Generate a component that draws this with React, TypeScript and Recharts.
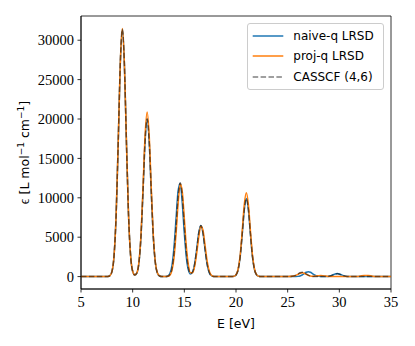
import React from 'react';
import { LineChart, Line, XAxis, YAxis, Legend, ReferenceArea } from 'recharts';

// photon energy grid [eV]
const energy = [
  5, 6, 7,
  7.4, 7.6, 7.8, 8, 8.2, 8.4, 8.6, 8.8, 9, 9.2, 9.4, 9.6, 9.8,
  10, 10.2, 10.4, 10.6, 10.8, 11, 11.2, 11.4, 11.6, 11.8,
  12, 12.2, 12.4, 12.6, 12.8, 13, 13.2, 13.4, 13.6, 13.8,
  14, 14.2, 14.4, 14.6, 14.8, 15, 15.2, 15.4, 15.6, 15.8,
  16, 16.2, 16.4, 16.6, 16.8, 17, 17.2, 17.4, 17.6, 17.8,
  18, 18.2, 18.4, 18.6, 18.8, 19, 19.2, 19.4, 19.6, 19.8,
  20, 20.2, 20.4, 20.6, 20.8, 21, 21.2, 21.4, 21.6, 21.8,
  22, 22.2, 22.4, 22.6,
  23, 24, 25,
  25.6, 25.8,
  26, 26.2, 26.4, 26.6, 26.8, 27, 27.2, 27.4, 27.6, 27.8,
  28, 28.2, 28.4, 28.6, 28.8, 29, 29.2, 29.4, 29.6, 29.8,
  30, 30.2, 30.4, 30.6,
  31, 31.6, 32, 32.4, 32.8, 33.2, 33.6, 34, 35,
];

const naiveQ = [
  0, 0, 0,
  2, 16, 122, 663, 2660, 7819, 16925, 26910, 31400, 26910, 16925, 7819, 2661,
  673, 200, 438, 1696, 4980, 10780, 17140, 20000, 17140, 10780,
  4980, 1694, 422, 78, 10, 3, 12, 79, 387, 1403,
  3749, 7414, 10900, 11800, 9306, 5474, 2383, 790, 319, 583,
  1625, 3505, 5571, 6500, 5571, 3504, 1619, 551, 137, 25,
  3, 0, 0, 0, 0, 0, 0, 0, 5, 39,
  209, 839, 2465, 5336, 8484, 9900, 8484, 5336, 2465, 839,
  209, 39, 5, 0,
  0, 0, 0,
  1, 7,
  28, 85, 205, 382, 556, 630, 556, 382, 205, 85,
  28, 7, 2, 4, 17, 51, 124, 231, 335, 380,
  335, 231, 124, 51,
  4, 0, 0, 0, 0, 0, 0, 0, 0,
];

const projQ = [
  0, 0, 0,
  2, 16, 122, 665, 2668, 7844, 16979, 26996, 31500, 26996, 16979, 7844, 2669,
  675, 204, 457, 1772, 5204, 11265, 17911, 20900, 17911, 11265,
  5204, 1770, 441, 82, 10, 1, 4, 32, 181, 763,
  2373, 5455, 9271, 11750, 10800, 7379, 3732, 1412, 483, 495,
  1304, 2973, 5048, 6400, 5911, 4015, 2029, 759, 209, 43,
  6, 1, 0, 0, 0, 0, 0, 0, 5, 42,
  225, 902, 2652, 5740, 9127, 10650, 9127, 5740, 2652, 902,
  225, 42, 5, 0,
  0, 0, 1,
  65, 156,
  291, 423, 480, 423, 291, 156, 65, 39, 47, 80,
  115, 130, 115, 79, 42, 18, 6, 0, 0, 0,
  0, 0, 0, 0,
  0, 7, 55, 150, 150, 55, 7, 0, 0,
];

const casscf = [
  0, 0, 0,
  2, 16, 122, 663, 2660, 7819, 16925, 26910, 31400, 26910, 16925, 7819, 2661,
  673, 200, 438, 1696, 4980, 10780, 17140, 20000, 17140, 10780,
  4980, 1694, 422, 78, 10, 2, 6, 46, 251, 1008,
  2963, 6414, 10198, 11900, 10198, 6414, 2966, 1033, 388, 597,
  1625, 3505, 5571, 6500, 5571, 3504, 1619, 551, 137, 25,
  3, 0, 0, 0, 0, 0, 0, 0, 5, 39,
  209, 839, 2465, 5336, 8484, 9900, 8484, 5336, 2465, 839,
  209, 39, 5, 0,
  0, 0, 1,
  74, 179,
  334, 485, 550, 485, 334, 179, 74, 24, 6, 1,
  0, 0, 1, 4, 15, 47, 114, 212, 309, 350,
  309, 212, 114, 47,
  4, 0, 0, 0, 0, 0, 0, 0, 0,
];

const xTicks = [5, 10, 15, 20, 25, 30, 35];
const yTicks = [0, 5000, 10000, 15000, 20000, 25000, 30000];

const rows = energy.map((E, i) => ({ E, naive: naiveQ[i], proj: projQ[i], casscf: casscf[i] }));

const series = [
  { key: 'naive', name: 'naive-q LRSD', color: '#1f77b4', dash: undefined as string | undefined, opacity: 1 },
  { key: 'proj', name: 'proj-q LRSD', color: '#ff7f0e', dash: undefined as string | undefined, opacity: 1 },
  { key: 'casscf', name: 'CASSCF (4,6)', color: '#000000', dash: '5.5 2.4', opacity: 0.5 },
];

const tickStyle = { fontFamily: 'Liberation Serif', fontSize: 14.5, fill: '#000' };

// legend keeps the plotting order instead of Recharts' alphabetical sort
const LegendBox = () => (
  <div
    style={{
      position: 'relative',
      width: 137,
      height: 67,
      boxSizing: 'border-box',
      border: '1px solid #cccccc',
      borderRadius: 3,
      background: 'rgba(255,255,255,0.8)',
      fontFamily: 'DejaVu Sans',
      fontSize: 12,
      color: '#000',
    }}
  >
    {series.map((s, i) => (
      <div key={s.key} style={{ position: 'absolute', left: 0, top: 11.5 + i * 20.75 - 10, height: 20, width: '100%' }}>
        <svg width={40} height={20} style={{ position: 'absolute', left: 0, top: 0 }}>
          <line x1={4.7} x2={35.3} y1={10} y2={10} stroke={s.color} strokeOpacity={s.opacity}
            strokeWidth={1.5} strokeDasharray={s.dash} />
        </svg>
        <span style={{ position: 'absolute', left: 45.3, top: 0, lineHeight: '20px', whiteSpace: 'nowrap' }}>{s.name}</span>
      </div>
    ))}
  </div>
);

const YLabel = (props: any) => {
  const vb = props.viewBox ?? { x: 0, y: 16, width: 81, height: 273 };
  const cx = vb.x + 29;
  const cy = vb.y + vb.height / 2;
  return (
    <text x={cx} y={cy} transform={`rotate(-90, ${cx}, ${cy})`} textAnchor="middle"
      fontFamily="DejaVu Sans" fontSize={12.5} fill="#000">
      <tspan fontFamily="Liberation Serif" fontSize={14}>ϵ</tspan>
      <tspan> [L mol</tspan>
      <tspan dy={-5} fontSize={9}>−1</tspan>
      <tspan dy={5}> cm</tspan>
      <tspan dy={-5} fontSize={9}>−1</tspan>
      <tspan dy={5}>]</tspan>
    </text>
  );
};

const XLabel = (props: any) => {
  const vb = props.viewBox ?? { x: 81, y: 289, width: 310, height: 57 };
  return (
    <text x={vb.x + vb.width / 2} y={vb.y + 38.5} textAnchor="middle" fontFamily="DejaVu Sans" fontSize={12.5} fill="#000">
      E [eV]
    </text>
  );
};

export default function App() {
  return (
    <div style={{ position: 'absolute', left: 0, top: 0, width: 415, height: 346, background: '#fff' }}>
      <LineChart width={415} height={346} data={rows} margin={{ top: 16, right: 24, left: 0, bottom: 0 }}>
        <XAxis
          dataKey="E"
          type="number"
          domain={[5, 35]}
          ticks={xTicks}
          height={57}
          tick={tickStyle}
          tickSize={3.5}
          tickMargin={4}
          stroke="#000"
          strokeWidth={0.8}
          label={<XLabel />}
        />
        <YAxis
          type="number"
          domain={[-1575, 33075]}
          ticks={yTicks}
          width={81}
          tick={tickStyle}
          tickSize={3.5}
          tickMargin={3.5}
          stroke="#000"
          strokeWidth={0.8}
          label={<YLabel />}
        />
        <ReferenceArea x1={5} x2={35} y1={-1575} y2={33075} fill="none" stroke="#000" strokeWidth={0.8} />
        {series.map((s) => (
          <Line
            key={s.key}
            type="monotone"
            dataKey={s.key}
            name={s.name}
            stroke={s.color}
            strokeOpacity={s.opacity}
            strokeWidth={1.5}
            strokeDasharray={s.dash}
            dot={false}
            activeDot={false}
            isAnimationActive={false}
          />
        ))}
        <Legend
          layout="horizontal"
          verticalAlign="middle"
          align="center"
          content={<LegendBox />}
          wrapperStyle={{ left: 247, top: 23, width: 137, height: 67 }}
        />
      </LineChart>
    </div>
  );
}
